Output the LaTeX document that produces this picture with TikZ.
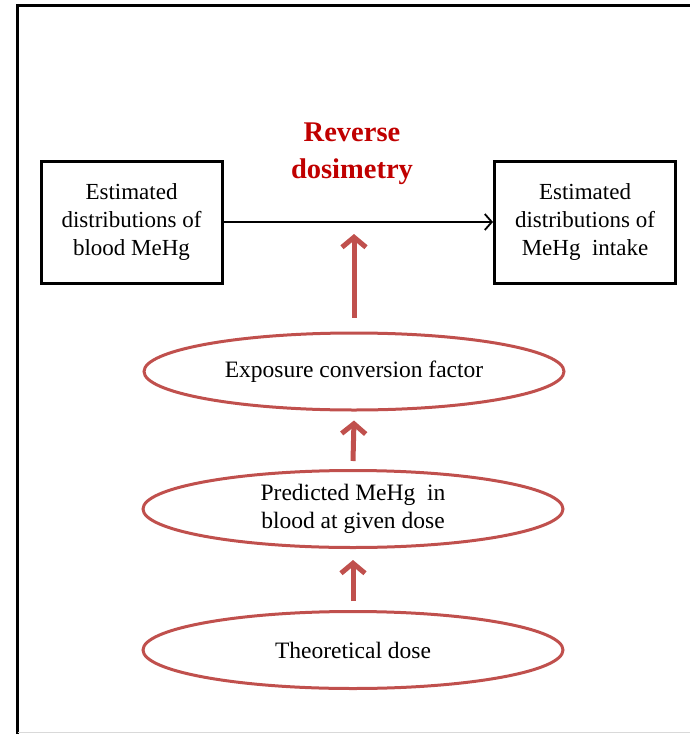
\documentclass[tikz,border=0pt]{standalone}
\usepackage{fontspec}
\setmainfont{Liberation Serif}
\usetikzlibrary{arrows.meta,shapes.geometric}
\definecolor{ellred}{HTML}{C0504D}
\definecolor{titred}{HTML}{C00000}
\tikzset{
  blackbox/.style={draw=black,line width=3pt,minimum width=181pt,minimum height=122pt,inner sep=0pt,align=center,font=\fontsize{23}{28}\selectfont},
  redell/.style={draw=ellred,line width=3pt,ellipse,minimum width=420pt,minimum height=77pt,inner sep=0pt,align=center,font=\fontsize{23.5}{28}\selectfont},
  redarrow/.style={draw=ellred,line width=5pt,-{Straight Barb[length=10pt,width=24pt,line width=5pt]}},
  blackarrow/.style={draw=black,line width=1.8pt,-{Straight Barb[length=7pt,width=16pt,line width=1.8pt]}}
}
\begin{document}
\begin{tikzpicture}[x=1pt,y=-1pt]
\useasboundingbox (0,0) rectangle (690,734);
% outer frame
\draw[black,line width=3pt] (17.5,734) -- (17.5,5.5) -- (690,5.5);
\draw[gray!30,line width=1pt] (17.5,732.5) -- (690,732.5);
% title
\node[text=titred,font=\fontsize{28.5}{37}\selectfont\bfseries,align=center] (title) at (352,154) {Reverse\\dosimetry};
% boxes
\node[blackbox] (blood) at (131.5,222) {Estimated\\distributions of\\blood MeHg};
\node[blackbox] (intake) at (585,222) {Estimated\\distributions of\\MeHg\ \ intake};
\draw[blackarrow] (blood.east) -- (intake.west);
% ellipses
\node[redell] (ecf) at (354,371.5) {Exposure conversion factor};
\node[redell] (pred) at (353,509) {Predicted MeHg\ \ in\\blood at given dose};
\node[redell] (dose) at (353,650) {Theoretical dose};
% arrows
\coordinate (tip1) at (354,234);
\draw[redarrow] ([yshift=14pt]ecf.north) -- (tip1);
\draw[redarrow] ([yshift=8pt]pred.north) -- ([yshift=-9pt]ecf.south);
\draw[redarrow] ([yshift=9pt]dose.north) -- ([yshift=-11pt]pred.south);
\end{tikzpicture}
\end{document}
